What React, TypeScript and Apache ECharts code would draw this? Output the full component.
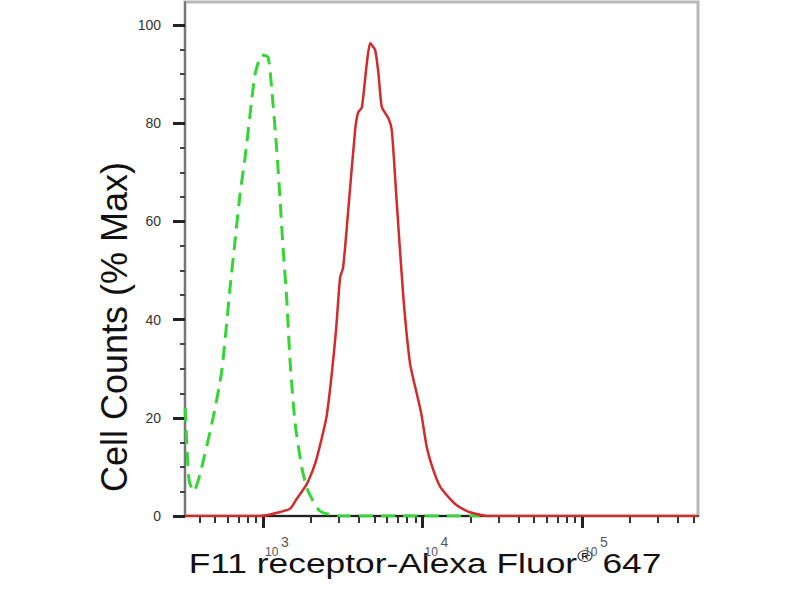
import React, { useEffect, useRef } from 'react';
import * as echarts from 'echarts';

// axis range (fluorescence intensity, log scale)
const X_MIN = 324;
const X_MAX = 533000;
const Y_MAX = 104.7;

const xMajorTicks = [1000, 10000, 100000];
const xMinorTicks = [
    400, 500, 600, 700, 800, 900,
    2000, 3000, 4000, 5000, 6000, 7000, 8000, 9000,
    20000, 30000, 40000, 50000, 60000, 70000, 80000, 90000,
    200000, 300000, 400000, 500000,
];
const yMajorTicks = [0, 20, 40, 60, 80, 100];
const yMinorTicks = [5, 10, 15, 25, 30, 35, 45, 50, 55, 65, 70, 75, 85, 90, 95];

// isotype control (green dashed)
const isotypeX = [325, 334, 345, 368, 403, 486, 551, 621, 667, 718, 771, 849, 891, 982, 1074, 1135, 1219, 1279, 1334, 1409, 1476, 1589, 1750, 1914, 2275, 3041, 10000, 23000];
const isotypeY = [22, 13, 7, 5, 8.6, 20, 29.6, 46.5, 56, 65.7, 73, 84.7, 90, 93.9, 93.5, 86.7, 74.5, 64.3, 54.7, 43.9, 31.6, 18.8, 9.8, 5.1, 1, 0, 0, 0];

// F11 receptor stained (red)
const stainedX = [324, 958, 1106, 1278, 1477, 1626, 1879, 2058, 2171, 2379, 2508, 2697, 2870, 3041, 3176, 3414, 3777, 3945, 4160, 4471, 4690, 5041, 5286, 5550, 6105, 6412, 6892, 7580, 8352, 9200, 9797, 10630, 11640, 12880, 14870, 16380, 18990, 21860, 25370, 533000];
const stainedY = [0, 0, 0.3, 0.8, 1.5, 3.5, 6.5, 9.5, 11.8, 17, 20.5, 29, 38, 48.6, 50.6, 62, 78.6, 82.2, 83.2, 92.2, 96.3, 94.9, 90.2, 83.3, 81, 78.6, 63.7, 44.5, 31, 24.9, 21, 14, 9.5, 6, 3.5, 2.2, 1, 0.4, 0, 0];

const FONT = 'Liberation Sans, Arial, sans-serif';

const toPairs = (xs: number[], ys: number[]) => xs.map((x, i) => [Math.log10(x), ys[i]]);

const FlowHistogram = () => {
    const chartRef = useRef<HTMLDivElement>(null);

    useEffect(() => {
        if (!chartRef.current) return;

        const chart = echarts.init(chartRef.current, null, { renderer: 'svg' });
        const xMin = Math.log10(X_MIN);
        const xMax = Math.log10(X_MAX);
        const decades = xMajorTicks.map((v) => Math.log10(v));

        const option = {
            animation: false,
            grid: {
                left: 185,
                right: 102,
                top: 2,
                bottom: 84,
                show: true,
                borderColor: '#b8b8b8',
                borderWidth: 3,
            },
            xAxis: [
                {
                    // major ticks + base "10"
                    type: 'value',
                    min: xMin,
                    max: xMax,
                    position: 'bottom',
                    splitLine: { show: false },
                    axisLine: { show: true, lineStyle: { color: '#222', width: 2 } },
                    axisTick: {
                        show: true,
                        customValues: decades,
                        length: 12,
                        lineStyle: { color: '#222', width: 3 },
                    },
                    axisLabel: {
                        customValues: decades,
                        formatter: () => '10',
                        align: 'left',
                        margin: 30,
                        padding: [0, 0, 0, 2],
                        fontSize: 12,
                        fontFamily: FONT,
                        color: '#555',
                    },
                },
                {
                    // minor ticks + exponent
                    type: 'value',
                    min: xMin,
                    max: xMax,
                    position: 'bottom',
                    splitLine: { show: false },
                    axisLine: { show: false },
                    axisTick: {
                        show: true,
                        customValues: xMinorTicks.map((v) => Math.log10(v)),
                        length: 7,
                        lineStyle: { color: '#333', width: 2 },
                    },
                    axisLabel: {
                        customValues: decades,
                        formatter: (v: number) => String(Math.round(v)),
                        align: 'left',
                        margin: 19,
                        padding: [0, 0, 0, 18],
                        fontSize: 14,
                        fontFamily: FONT,
                        color: '#555',
                    },
                },
            ],
            yAxis: [
                {
                    type: 'value',
                    min: 0,
                    max: Y_MAX,
                    position: 'left',
                    splitLine: { show: false },
                    axisLine: { show: true, lineStyle: { color: '#777', width: 2 } },
                    axisTick: {
                        show: true,
                        customValues: yMajorTicks,
                        length: 12,
                        lineStyle: { color: '#222', width: 3 },
                    },
                    axisLabel: {
                        customValues: yMajorTicks,
                        margin: 24,
                        fontSize: 14,
                        fontFamily: FONT,
                        color: '#333',
                    },
                },
                {
                    type: 'value',
                    min: 0,
                    max: Y_MAX,
                    position: 'left',
                    splitLine: { show: false },
                    axisLine: { show: false },
                    axisTick: {
                        show: true,
                        customValues: yMinorTicks,
                        length: 5,
                        lineStyle: { color: '#444', width: 2 },
                    },
                    axisLabel: { show: false },
                },
            ],
            series: [
                {
                    name: 'Isotype control',
                    type: 'line',
                    xAxisIndex: 0,
                    yAxisIndex: 0,
                    symbol: 'none',
                    smooth: 0.2,
                    data: toPairs(isotypeX, isotypeY),
                    lineStyle: { color: '#33d633', width: 3, type: [14, 8] },
                },
                {
                    name: 'F11 receptor',
                    type: 'line',
                    xAxisIndex: 0,
                    yAxisIndex: 0,
                    symbol: 'none',
                    smooth: 0.2,
                    data: toPairs(stainedX, stainedY),
                    lineStyle: { color: '#d42a2a', width: 2.5 },
                },
            ],
            graphic: [
                {
                    type: 'text',
                    x: 425,
                    y: 564,
                    scaleX: 1.31,
                    style: {
                        text: '{a|F11 receptor-Alexa Fluor}{r|®}{a| 647}',
                        align: 'center',
                        verticalAlign: 'middle',
                        rich: {
                            a: { fontSize: 27, fontFamily: FONT, fill: '#111' },
                            r: { fontSize: 16, fontFamily: FONT, fill: '#111', padding: [0, 0, 16, 0] },
                        },
                    },
                },
                {
                    type: 'text',
                    x: 114,
                    y: 327,
                    rotation: Math.PI / 2,
                    style: {
                        text: 'Cell Counts (% Max)',
                        align: 'center',
                        verticalAlign: 'middle',
                        fontSize: 36,
                        fontFamily: FONT,
                        fill: '#111',
                    },
                },
            ],
        };

        chart.setOption(option);

        return () => {
            chart.dispose();
        };
    }, []);

    return (
        <div ref={chartRef} style={{ position: 'absolute', left: 0, top: 0, width: '800px', height: '600px', background: '#fff' }} />
    );
};

export default function App() {
    return <FlowHistogram />;
}
